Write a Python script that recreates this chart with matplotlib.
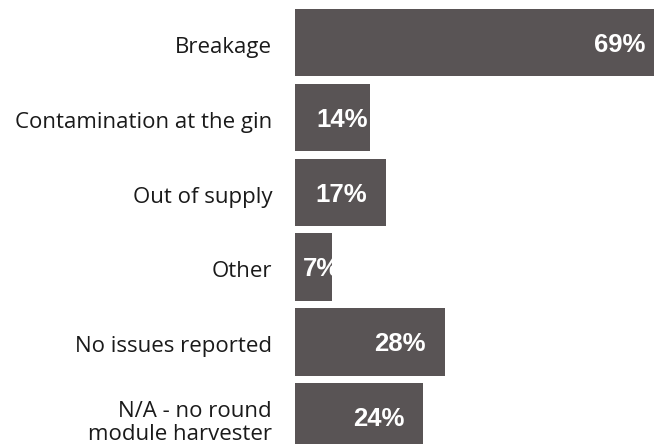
import matplotlib
matplotlib.use("Agg")
import matplotlib.pyplot as plt

# survey responses: issues with round module wrap
categories = ["Breakage", "Contamination at the gin", "Out of supply", "Other",
              "No issues reported", "N/A - no round\nmodule harvester"]
percents = [69, 14, 17, 7, 28, 24]

# how far inside the bar end each value label sits (in % units)
label_pad = [3.5, 0.4, 3.5, -1.5, 3.5, 3.5]

bar_color = "#595455"

fig = plt.figure(figsize=(6.54, 4.44), dpi=100)
ax = fig.add_axes([295 / 654, 1 - 454.5 / 444, 1 - 295 / 654, 449.5 / 444])

pos = list(range(len(categories)))
ax.barh(pos, percents, height=0.9, color=bar_color)

for y, v, pad in zip(pos, percents, label_pad):
    ax.text(v - pad, y + 0.03, f"{v}%", ha="right", va="center", color="white",
            fontsize=18.5, fontweight="bold", family="Liberation Sans",
            clip_on=True)

ax.set_ylim(len(categories) - 0.5, -0.5)
ax.set_xlim(0, 359 / 5.35)
ax.set_yticks([p + 0.03 for p in pos])
ax.set_yticklabels(categories, fontsize=16, family="Open Sans", color="#1a1a1a",
                   linespacing=1.15)
ax.tick_params(axis="y", length=0, pad=16.5)
ax.set_xticks([])
for s in ax.spines.values():
    s.set_visible(False)

fig.savefig("out.png", dpi=100)
